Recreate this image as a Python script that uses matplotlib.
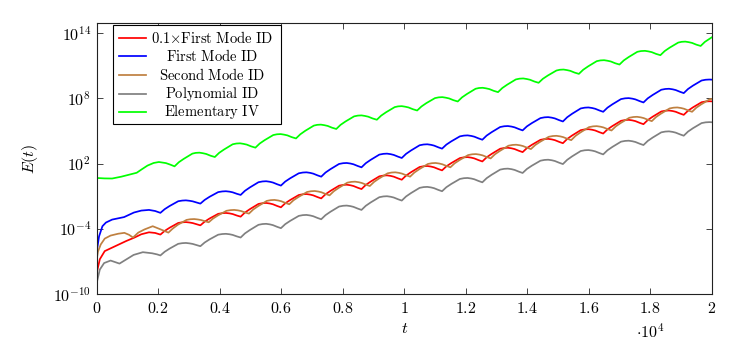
import numpy as np
import matplotlib
matplotlib.use("Agg")
import matplotlib.pyplot as plt
from matplotlib.lines import Line2D
from matplotlib.patches import Rectangle

plt.rcParams["mathtext.fontset"] = "cm"
plt.rcParams["font.family"] = "serif"
plt.rcParams["font.serif"] = ["DejaVu Serif"]

# --- data: t and log10 E(t) ---
# oscillation samples shared by the red, blue and gray curves (after the start-up)
t_cycle = [2070, 2210, 2370, 2650, 2780, 2900, 3020, 3120, 3260,
           3370, 3510, 3670, 3950, 4080, 4200, 4320, 4420, 4560,
           4680, 4820, 4980, 5260, 5390, 5510, 5630, 5730, 5870,
           5990, 6130, 6290, 6570, 6700, 6820, 6940, 7040, 7180,
           7300, 7440, 7600, 7880, 8010, 8130, 8250, 8350, 8490,
           8610, 8750, 8910, 9190, 9320, 9440, 9560, 9660, 9800,
           9920, 10060, 10220, 10500, 10630, 10750, 10870, 10970, 11110,
           11230, 11370, 11530, 11810, 11940, 12060, 12180, 12280, 12420,
           12540, 12680, 12840, 13120, 13250, 13370, 13490, 13590, 13730,
           13850, 13990, 14150, 14430, 14560, 14680, 14800, 14900, 15040,
           15160, 15300, 15460, 15740, 15870, 15990, 16110, 16210, 16350,
           16470, 16610, 16770, 17050, 17180, 17300, 17420, 17520, 17660,
           17780, 17920, 18080, 18360, 18490, 18610, 18730, 18830, 18970,
           19090, 19230, 19390, 19670, 19800, 19920, 20000]

t_red = [0, 100, 260, 580, 960, 1230, 1450, 1700, 1900] + t_cycle
logE_red = [-8.05, -6.8, -6.05, -5.62, -5.12, -4.80, -4.50, -4.32, -4.38,
            -4.53, -4.19, -3.90, -3.46, -3.40, -3.38, -3.42, -3.47, -3.59,
            -3.68, -3.34, -3.05, -2.62, -2.56, -2.54, -2.58, -2.64, -2.78,
            -2.88, -2.50, -2.19, -1.71, -1.64, -1.62, -1.67, -1.74, -1.90,
            -2.02, -1.65, -1.35, -0.89, -0.82, -0.80, -0.85, -0.92, -1.08,
            -1.20, -0.82, -0.51, -0.03, 0.04, 0.06, 0.01, -0.06, -0.22,
            -0.34, 0.04, 0.35, 0.83, 0.90, 0.92, 0.87, 0.80, 0.64,
            0.52, 0.90, 1.21, 1.69, 1.76, 1.78, 1.73, 1.66, 1.50,
            1.38, 1.75, 2.05, 2.51, 2.58, 2.60, 2.55, 2.48, 2.32,
            2.20, 2.58, 2.89, 3.37, 3.44, 3.46, 3.41, 3.34, 3.18,
            3.06, 3.43, 3.73, 4.19, 4.26, 4.28, 4.23, 4.16, 4.00,
            3.88, 4.27, 4.59, 5.08, 5.15, 5.17, 5.12, 5.05, 4.89,
            4.77, 5.15, 5.46, 5.94, 6.01, 6.03, 5.98, 5.91, 5.75,
            5.63, 6.01, 6.32, 6.80, 6.87, 6.89, 6.84, 6.77, 6.61,
            6.49, 6.87, 7.18, 7.65, 7.72, 7.74, 7.73]

t_blue = [0, 75, 185, 300, 500, 890, 1210, 1450, 1700, 1900] + t_cycle
logE_blue = [-6.1, -4.7, -3.76, -3.42, -3.15, -2.92, -2.50, -2.32, -2.26, -2.36,
             -2.53, -2.19, -1.90, -1.46, -1.40, -1.38, -1.42, -1.47, -1.59,
             -1.68, -1.34, -1.05, -0.62, -0.56, -0.54, -0.58, -0.64, -0.78,
             -0.88, -0.50, -0.19, 0.29, 0.36, 0.38, 0.33, 0.26, 0.10,
             -0.02, 0.35, 0.65, 1.11, 1.18, 1.20, 1.15, 1.08, 0.92,
             0.80, 1.18, 1.49, 1.97, 2.04, 2.06, 2.01, 1.94, 1.78,
             1.66, 2.04, 2.35, 2.83, 2.90, 2.92, 2.87, 2.80, 2.64,
             2.52, 2.90, 3.21, 3.69, 3.76, 3.78, 3.73, 3.66, 3.50,
             3.38, 3.75, 4.05, 4.51, 4.58, 4.60, 4.55, 4.48, 4.32,
             4.20, 4.58, 4.89, 5.37, 5.44, 5.46, 5.41, 5.34, 5.18,
             5.06, 5.43, 5.73, 6.19, 6.26, 6.28, 6.23, 6.16, 6.00,
             5.88, 6.27, 6.59, 7.08, 7.15, 7.17, 7.12, 7.05, 6.89,
             6.77, 7.15, 7.46, 7.94, 8.01, 8.03, 7.98, 7.91, 7.75,
             7.63, 8.01, 8.32, 8.80, 8.87, 8.89, 8.84, 8.77, 8.61,
             8.49, 8.87, 9.18, 9.65, 9.72, 9.74, 9.73]

t_brown = [0, 40, 130, 260, 450, 700, 900, 1050, 1180, 1350, 1550, 1820, 2050,
           2330, 2470, 2640, 2920, 3040, 3170, 3290, 3390, 3530,
           3640, 3780, 3940, 4220, 4350, 4470, 4590, 4690, 4830,
           4950, 5090, 5250, 5530, 5660, 5780, 5900, 6000, 6140,
           6260, 6400, 6560, 6840, 6970, 7090, 7210, 7310, 7450,
           7570, 7710, 7870, 8150, 8280, 8400, 8520, 8620, 8760,
           8880, 9020, 9180, 9460, 9590, 9710, 9830, 9930, 10070,
           10190, 10330, 10490, 10770, 10900, 11020, 11140, 11240, 11380,
           11500, 11640, 11800, 12080, 12210, 12330, 12450, 12550, 12690,
           12810, 12950, 13110, 13390, 13520, 13640, 13760, 13860, 14000,
           14120, 14260, 14420, 14700, 14830, 14950, 15070, 15170, 15310,
           15430, 15570, 15730, 16010, 16140, 16260, 16380, 16480, 16620,
           16740, 16880, 17040, 17320, 17450, 17570, 17690, 17790, 17930,
           18050, 18190, 18350, 18630, 18760, 18880, 19000, 19100, 19240,
           19360, 19500, 19660, 19940, 20000]
logE_brown = [-6.82, -6.1, -5.44, -4.9, -4.62, -4.45, -4.37, -4.55, -4.80, -4.35, -4.06, -3.76, -4.02,
              -4.35, -3.98, -3.62, -3.18, -3.12, -3.10, -3.14, -3.19, -3.31,
              -3.40, -3.06, -2.77, -2.34, -2.28, -2.26, -2.30, -2.36, -2.50,
              -2.60, -2.22, -1.91, -1.43, -1.36, -1.34, -1.39, -1.46, -1.62,
              -1.74, -1.37, -1.07, -0.61, -0.54, -0.52, -0.57, -0.64, -0.80,
              -0.92, -0.54, -0.23, 0.25, 0.32, 0.34, 0.29, 0.22, 0.06,
              -0.06, 0.32, 0.63, 1.11, 1.18, 1.20, 1.15, 1.08, 0.92,
              0.80, 1.18, 1.49, 1.97, 2.04, 2.06, 2.01, 1.94, 1.78,
              1.66, 2.03, 2.33, 2.79, 2.86, 2.88, 2.83, 2.76, 2.60,
              2.48, 2.86, 3.17, 3.65, 3.72, 3.74, 3.69, 3.62, 3.46,
              3.34, 3.71, 4.01, 4.47, 4.54, 4.56, 4.51, 4.44, 4.28,
              4.16, 4.55, 4.87, 5.36, 5.43, 5.45, 5.40, 5.33, 5.17,
              5.05, 5.43, 5.74, 6.22, 6.29, 6.31, 6.26, 6.19, 6.03,
              5.91, 6.29, 6.60, 7.08, 7.15, 7.17, 7.12, 7.05, 6.89,
              6.77, 7.15, 7.46, 7.93, 7.95]

t_gray = [0, 100, 240, 450, 740, 1000, 1200, 1500, 1800, 1960] + t_cycle
logE_gray = [-8.96, -7.75, -7.15, -6.92, -7.20, -6.75, -6.40, -6.15, -6.25, -6.35,
             -6.45, -6.11, -5.82, -5.38, -5.32, -5.30, -5.34, -5.39, -5.51,
             -5.60, -5.26, -4.97, -4.54, -4.48, -4.46, -4.50, -4.56, -4.70,
             -4.80, -4.42, -4.11, -3.63, -3.56, -3.54, -3.59, -3.66, -3.82,
             -3.94, -3.57, -3.27, -2.81, -2.74, -2.72, -2.77, -2.84, -3.00,
             -3.12, -2.74, -2.43, -1.95, -1.88, -1.86, -1.91, -1.98, -2.14,
             -2.26, -1.88, -1.57, -1.09, -1.02, -1.00, -1.05, -1.12, -1.28,
             -1.40, -1.02, -0.71, -0.23, -0.16, -0.14, -0.19, -0.26, -0.42,
             -0.54, -0.17, 0.13, 0.59, 0.66, 0.68, 0.63, 0.56, 0.40,
             0.28, 0.66, 0.97, 1.45, 1.52, 1.54, 1.49, 1.42, 1.26,
             1.14, 1.51, 1.81, 2.27, 2.34, 2.36, 2.31, 2.24, 2.08,
             1.96, 2.35, 2.67, 3.16, 3.23, 3.25, 3.20, 3.13, 2.97,
             2.85, 3.23, 3.54, 4.02, 4.09, 4.11, 4.06, 3.99, 3.83,
             3.71, 4.09, 4.40, 4.88, 4.95, 4.97, 4.92, 4.85, 4.69,
             4.57, 4.95, 5.26, 5.73, 5.80, 5.82, 5.81]

t_green = [0, 250, 500, 800, 1100, 1300, 1450, 1650, 1850, 2020, 2250, 2400,
           2530, 2670, 2830, 3110, 3220, 3340, 3450, 3560, 3700,
           3840, 3980, 4140, 4420, 4540, 4660, 4770, 4880, 5020,
           5160, 5300, 5460, 5740, 5860, 5980, 6090, 6200, 6340,
           6480, 6620, 6780, 7060, 7170, 7290, 7400, 7510, 7650,
           7790, 7930, 8090, 8370, 8490, 8610, 8720, 8830, 8970,
           9110, 9250, 9410, 9690, 9800, 9920, 10030, 10140, 10280,
           10420, 10560, 10720, 11000, 11120, 11240, 11350, 11460, 11600,
           11740, 11880, 12040, 12320, 12430, 12550, 12660, 12770, 12910,
           13050, 13190, 13350, 13630, 13750, 13870, 13980, 14090, 14230,
           14370, 14510, 14670, 14950, 15060, 15180, 15290, 15400, 15540,
           15680, 15820, 15980, 16260, 16380, 16500, 16610, 16720, 16860,
           17000, 17140, 17300, 17580, 17700, 17830, 17940, 18050, 18190,
           18330, 18470, 18630, 18910, 19020, 19140, 19250, 19360, 19500,
           19640, 19780, 20000]
logE_green = [0.68, 0.64, 0.63, 0.80, 1.02, 1.16, 1.45, 1.82, 2.06, 2.15, 2.05, 1.90,
              1.75, 2.13, 2.44, 2.92, 2.99, 3.01, 2.96, 2.89, 2.73,
              2.61, 2.99, 3.30, 3.78, 3.85, 3.87, 3.82, 3.75, 3.59,
              3.47, 3.85, 4.16, 4.63, 4.70, 4.72, 4.67, 4.60, 4.44,
              4.32, 4.70, 5.02, 5.50, 5.57, 5.59, 5.54, 5.47, 5.31,
              5.19, 5.57, 5.88, 6.35, 6.42, 6.44, 6.39, 6.32, 6.16,
              6.04, 6.42, 6.73, 7.20, 7.27, 7.29, 7.24, 7.17, 7.01,
              6.89, 7.26, 7.57, 8.03, 8.10, 8.12, 8.07, 8.00, 7.84,
              7.72, 8.10, 8.41, 8.89, 8.96, 8.98, 8.93, 8.86, 8.70,
              8.58, 8.96, 9.27, 9.75, 9.82, 9.84, 9.79, 9.72, 9.56,
              9.44, 9.81, 10.11, 10.57, 10.64, 10.66, 10.61, 10.54, 10.38,
              10.26, 10.64, 10.95, 11.43, 11.50, 11.52, 11.47, 11.40, 11.24,
              11.12, 11.50, 11.81, 12.29, 12.36, 12.38, 12.33, 12.26, 12.10,
              11.98, 12.36, 12.67, 13.14, 13.21, 13.23, 13.18, 13.11, 12.95,
              12.83, 13.21, 13.62]

labels = [r"$0.1{\times}\mathrm{First\ Mode\ ID}$", r"$\mathrm{First\ Mode\ ID}$",
          r"$\mathrm{Second\ Mode\ ID}$", r"$\mathrm{Polynomial\ ID}$",
          r"$\mathrm{Elementary\ IV}$"]
colors = ["#ff0000", "#0000ff", "#bf8040", "#808080", "#00ff00"]
series = [(t_red, logE_red), (t_blue, logE_blue), (t_brown, logE_brown),
          (t_gray, logE_gray), (t_green, logE_green)]

fig = plt.figure(figsize=(7.29, 3.44), dpi=100)
ax = fig.add_axes([0.1327, 0.1453, 0.8436, 0.7887])

for (t, lg), col in zip(series, colors):
    ax.plot(t, 10.0 ** np.array(lg), color=col, lw=1.25)

ax.set_yscale("log")
ax.set_xlim(0, 20000)
ax.set_ylim(1e-10, 10 ** 14.97)

yticks = [1e-10, 1e-4, 1e2, 1e8, 1e14]
ax.set_yticks(yticks)
ax.set_yticklabels([r"$10^{%d}$" % round(np.log10(v)) for v in yticks])
ax.yaxis.set_minor_locator(matplotlib.ticker.NullLocator())
xticks = np.arange(0, 20001, 2000)
ax.set_xticks(xticks)
ax.set_xticklabels([r"$%g$" % (v / 1e4) for v in xticks])

ax.tick_params(direction="in", top=True, right=True, length=4, width=0.7,
               labelsize=11.5, pad=4, color="#444444")
for s in ax.spines.values():
    s.set_linewidth(0.8)
    s.set_color("#222222")

ax.set_xlabel(r"$t$", fontsize=11.5)
ax.xaxis.set_label_coords(0.5, -0.095)
ax.set_ylabel(r"$E(t)$", fontsize=11.5)
ax.yaxis.set_label_coords(-0.092, 0.5)
ax.text(0.90, -0.14, r"$\cdot10^{4}$", transform=ax.transAxes,
        ha="center", va="center", fontsize=11.5)

# legend drawn by hand so the labels can be centred like the original
ax.add_patch(Rectangle((0.027, 0.627), 0.273, 0.365, transform=ax.transAxes,
                       fc="white", ec="black", lw=0.8, zorder=5))
for i, (lbl, col) in enumerate(zip(labels, colors)):
    y = 0.945 - i * 0.0687
    ax.add_line(Line2D([0.036, 0.080], [y, y], transform=ax.transAxes,
                       color=col, lw=1.25, zorder=6))
    ax.text(0.187, y, lbl, transform=ax.transAxes, ha="center", va="center",
            fontsize=10.5, zorder=6)

fig.savefig("out.png", dpi=100)
